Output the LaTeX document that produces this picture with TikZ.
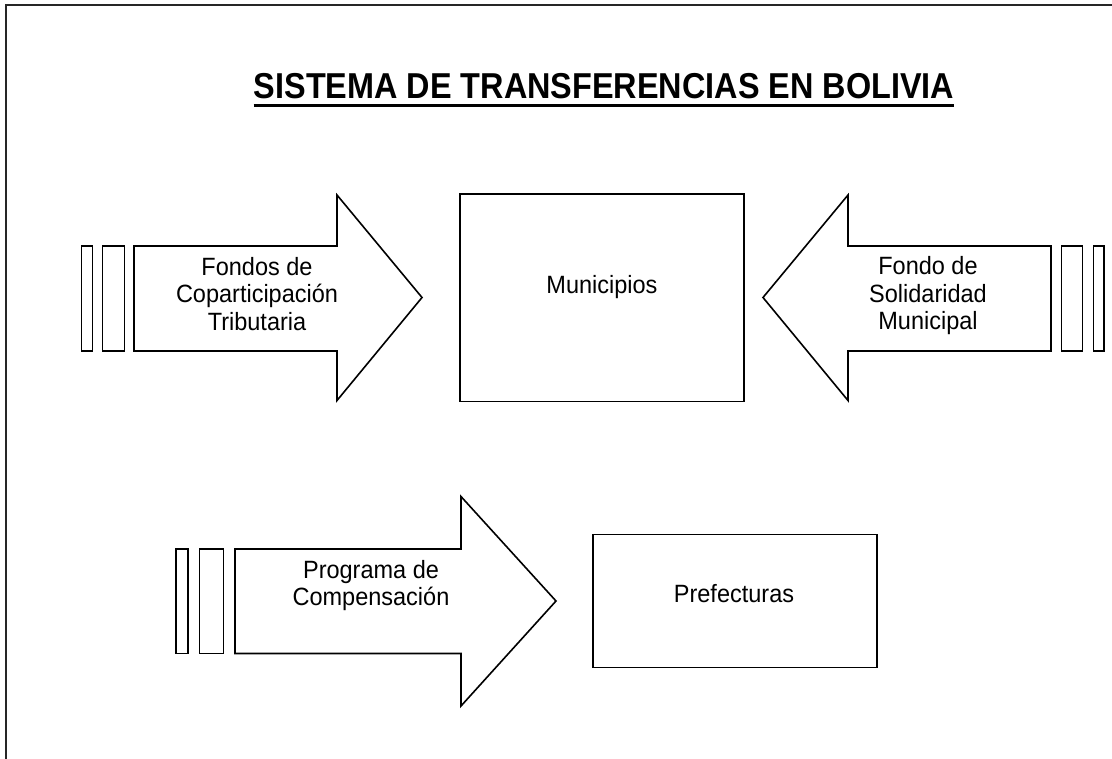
\documentclass[tikz,border=0pt]{standalone}
\usepackage{fontspec}
\setmainfont{Liberation Sans}
\newfontfamily\lblfont[FakeStretch=0.94]{Liberation Sans}
\newfontfamily\ttlfont[FakeStretch=0.9]{Liberation Sans}
\begin{document}
\begin{tikzpicture}[x=1pt,y=-1pt,
  outl/.style={draw=black,line width=1.6pt,fill=white,line join=miter},
  lbl/.style={inner sep=0pt,align=center,font=\lblfont\fontsize{25}{27.5}\selectfont},
  ttl/.style={inner sep=0pt,font=\ttlfont\fontsize{36}{40}\selectfont\bfseries}]
\useasboundingbox (0,0) rectangle (1112,759);
% frame
\draw[line width=2.3pt,black!85] (6,760) -- (6,5) -- (1113,5);
% title
\node[ttl,anchor=base] (title) at (604,99) {SISTEMA DE TRANSFERENCIAS EN BOLIVIA};
\draw[line width=3.3pt] ([yshift=-6.5pt]title.base west) -- ([yshift=-6.5pt]title.base east);
% left arrow
\draw[outl] (81.5,246) rectangle (92.5,351);
\draw[outl] (102.5,246) rectangle (124.5,351);
\draw[outl] (134,246) -- (337,246) -- (337,195) -- (422,297.5) -- (337,400.5) -- (337,351) -- (134,351) -- cycle;
\node[lbl,anchor=north] (fct) at (257,257) {Fondos de\\Coparticipación\\Tributaria};
% municipios
\draw[outl] (460,194) rectangle (744,401.5);
\node[lbl,anchor=base] (mun) at (602,293.5) {Municipios};
% right arrow
\draw[outl] (1061.5,246) rectangle (1082.5,351);
\draw[outl] (1093.5,246) rectangle (1104,351);
\draw[outl] (1051,246) -- (848,246) -- (848,195) -- (763,297.5) -- (848,400.5) -- (848,351) -- (1051,351) -- cycle;
\node[lbl,anchor=north] (fsm) at (928,256.5) {Fondo de\\Solidaridad\\Municipal};
% bottom arrow
\draw[outl] (176,549) rectangle (188,653.5);
\draw[outl] (199.5,549) rectangle (223.5,653.5);
\draw[outl] (235,549) -- (461,549) -- (461,496.5) -- (556,601) -- (461,706) -- (461,653.5) -- (235,653.5) -- cycle;
\node[lbl,anchor=north] (pc) at (371,560) {Programa de\\Compensación};
% prefecturas
\draw[outl] (593,534.5) rectangle (877,667.5);
\node[lbl,anchor=base] (pre) at (734,602) {Prefecturas};
\end{tikzpicture}
\end{document}
